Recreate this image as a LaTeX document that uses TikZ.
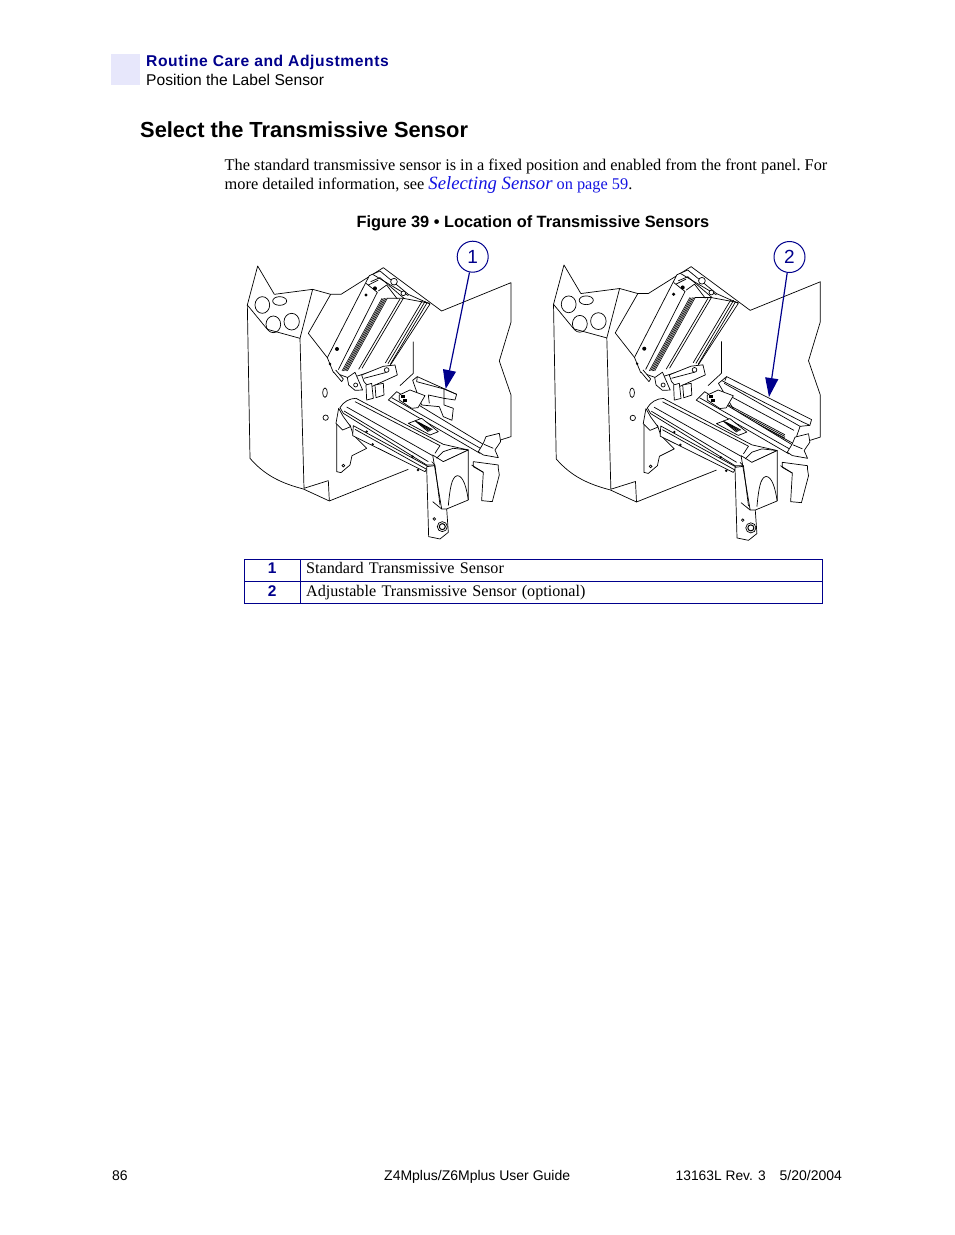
\documentclass[tikz,border=0pt]{standalone}
\usepackage{fontspec}
\setmainfont{Liberation Serif}
\setsansfont{Liberation Sans}
\usetikzlibrary{matrix, arrows.meta}
\definecolor{guideblue}{RGB}{0,0,140}
\definecolor{linkblue}{RGB}{20,20,225}
\definecolor{tabtint}{RGB}{231,231,251}
\tikzset{
  plain/.style={anchor=base west, inner sep=0pt, font=\sffamily\fontsize{14}{17}\selectfont},
  body/.style={anchor=base west, inner sep=0pt, font=\fontsize{16.34}{18}\selectfont},
  callout/.style={circle, draw=guideblue, line width=1pt, fill=white, minimum size=31pt, inner sep=0pt,
    text=guideblue, font=\sffamily\fontsize{19}{20}\selectfont},
  pointer/.style={draw=guideblue, line width=1.2pt, -{Triangle[length=19pt, width=13pt]}},
  part/.style={draw, fill=white, line join=round},
  edge/.style={draw, line join=round},
  rib/.style={draw, line width=0.6pt},
  layout/.style={
    matrix of nodes,
    inner sep=0pt,
    row sep=-\pgflinewidth,
    column sep=-\pgflinewidth,
    nodes={rectangle, draw=guideblue, line width=0.8pt, minimum height=22pt, inner sep=0pt, text height=10.5pt, text depth=3.5pt},
    column 1/.style={nodes={minimum width=56pt, align=center, text=guideblue, font=\sffamily\bfseries\fontsize{15.5}{17}\selectfont}},
    column 2/.style={nodes={minimum width=522pt, text width=511pt, align=left, font=\frenchspacing\fontsize{16.15}{18}\selectfont}},
  }
}
\newcommand{\housing}{%
  \draw[edge] (103,178) -- (53,93) -- (22,210) -- (30,670) .. controls (75,722) and (125,745) .. (190,762) -- (268,798) -- (505,703);
  \draw[edge] (22,210) -- (82,283) -- (180,310) -- (192,760) -- (265,737) -- (268,798);
  \draw[edge] (103,178) -- (218,163) -- (180,310);
  \draw[edge] (218,163) -- (272,178) -- (303,178) -- (430,98) -- (605,228) -- (813,143) -- (813,262) -- (778,378) -- (813,480) -- (813,605) -- (775,617);
  \draw[edge] (272,178) -- (205,295) -- (262,368);
  \draw[edge] (520,320) -- (520,415) -- (480,452);
  \draw (67,210) ellipse (22 and 25);
  \draw (119,198) ellipse (21 and 13);
  \draw (100,268) ellipse (22 and 25);
  \draw (155,260) ellipse (23 and 25);
  \draw (255,473) ellipse (7 and 14);
  \draw (257,548) circle (8);
}
\newcommand{\printhead}{%
  \draw[part] (388,122) -- (262,368) -- (280,412) -- (330,430) -- (450,392) -- (570,207) -- (505,178) -- (420,108) -- cycle;
  \draw[edge] (378,145) -- (412,172) -- (295,404);
  \foreach \ribshift in {0,4,8,12,16} {
    \draw[rib] (426+\ribshift,190) -- (306+\ribshift,408);
  }
  \draw[edge] (490,190) -- (366,400);
  \draw[edge] (480,192) -- (356,403);
  \draw[edge] (548,196) -- (436,384);
  \draw[edge] (556,198) -- (444,386);
  \draw[edge] (562,202) -- (451,388);
  \draw[edge] (440,190) -- (490,190) -- (570,205);
  \draw[edge] (398,118) -- (505,182);
  \draw[edge] (392,140) -- (420,128) -- (492,190);
  \draw[edge] (415,168) -- (440,150) -- (472,192);
  \draw[edge] (385,150) -- (415,135);
  \draw[part] (462,140) circle (10);
  \draw[part] (490,175) circle (7);
  \fill (378,180) circle (5);
  \fill (405,160) circle (6);
  \fill (291,342) circle (6);
  \fill (270,387) circle (4);
  \draw[part] (322,428) -- (345,412) -- (368,465) -- (345,466) -- (326,450) -- cycle;
  \draw (347,450) circle (6);
  \draw[part] (365,420) -- (430,394) -- (465,390) -- (472,420) -- (388,458) -- (372,440) -- cycle;
  \draw[edge] (372,430) -- (440,412);
  \draw[part] (440,405) circle (7);
  \draw[part] (378,450) -- (395,445) -- (400,490) -- (380,495) -- cycle;
  \draw[part] (405,450) -- (430,445) -- (432,480) -- (408,488) -- cycle;
  \draw[part] (280,410) -- (305,440) -- (310,432) -- (287,405);
}
\newcommand{\smallsensor}{%
  \draw[part] (518,436) -- (532,425) -- (650,478) -- (645,495) -- (612,490) -- (612,510) -- (640,520) -- (636,556) -- (610,545) -- (598,515) -- (545,510) -- (530,470) -- cycle;
  \draw[edge] (532,425) -- (530,440) -- (612,462) -- (612,490);
  \draw[edge] (612,462) -- (650,478);
  \draw[edge] (565,480) -- (612,490);
  \draw[edge] (565,480) -- (568,505);
}
\newcommand{\longsensor}{%
  \draw[part] (511,445) -- (521,437) -- (535,425) -- (787,553) -- (782,570) -- (753,573) -- (735,625) -- (560,530) -- cycle;
  \draw[edge] (521,437) -- (760,560) -- (782,570);
  \draw[edge] (528,445) -- (753,573);
  \draw[edge] (535,425) -- (530,437);
  \foreach \barshift in {0,5,10} {
    \draw[edge] (521,499+\barshift) -- (708,598+\barshift);
  }
  \draw[edge] (540,480) -- (735,585);
}
\newcommand{\platen}{%
  \draw[part] (470,470) -- (730,628) -- (720,655) -- (445,495) -- cycle;
  \draw[edge] (455,488) -- (725,642);
  \draw[part] (478,480) -- (510,465) -- (555,482) -- (534,518) -- (515,520) -- (478,495) -- cycle;
  \fill (482,480) rectangle (496,490);
  \fill (488,492) rectangle (502,501);
  \draw[part] (290,568) -- (290,710) -- (303,713) -- (330,690) -- (336,662) -- (380,640) -- (340,600) -- (330,570) -- cycle;
  \draw (310,692) circle (4);
  \draw[part] (300,518) .. controls (310,500) and (330,490) .. (348,490) -- (610,628) -- (685,645) -- (590,690) -- (560,690) -- (310,535) -- cycle;
  \draw[edge] (345,500) -- (600,632) -- (585,655);
  \draw[edge] (320,516) -- (578,662);
  \draw[edge] (312,528) -- (565,680);
  \draw[part] (340,572) -- (565,695) -- (555,710) -- (338,602) -- cycle;
  \draw[edge] (345,583) -- (560,703);
  \draw (398,628) circle (2.5);
  \draw (518,665) circle (2.5);
  \draw (380,590) circle (2.5);
  \draw (534,705) circle (2.5);
  \draw[part] (505,565) -- (545,550) -- (595,590) -- (570,600) -- cycle;
  \foreach \gripshift in {0,4,8,12} {
    \draw[line width=0.9pt] (525+\gripshift,557+\gripshift/2) -- (565+\gripshift,590-\gripshift/2);
  }
  \draw[part] (296,520) -- (310,545) -- (332,575) -- (308,585) -- (288,565) -- cycle;
  \draw[part] (700,680) -- (775,690) -- (775,700) -- (778,720) -- (757,800) -- (725,797) -- (730,712) -- (700,695) -- cycle;
  \draw[edge] (695,690) -- (730,712);
  \draw[part] (730,625) -- (738,605) -- (778,595) -- (782,620) -- (765,645) -- (775,668) -- (730,660) -- (715,650) -- cycle;
  \draw[edge] (732,628) -- (760,640);
  \draw[part] (560,695) -- (566,905) -- (600,912) -- (625,892) -- (620,820) -- (605,820) -- (600,690) -- cycle;
  \draw[part] (578,660) -- (610,680) -- (685,645) -- (685,795) -- (620,822) -- (605,822) -- cycle;
  \draw[edge] (590,670) -- (610,650) -- (640,640) -- (685,645);
  \draw[edge] (575,680) -- (585,690) -- (600,810);
  \draw[edge] (625,812) .. controls (630,760) and (635,725) .. (652,722) .. controls (670,722) and (680,760) .. (685,795);
  \draw (583,852) circle (4);
  \draw (607,875) circle (15);
  \draw[line width=1pt] (607,875) circle (9);
  \draw[edge] (578,800) -- (605,822);
}
\begin{document}
\begin{tikzpicture}[x=1pt, y=-1pt]
  \useasboundingbox (0,0) rectangle (954,1235);
  \fill[tabtint] (111,54) rectangle (140,85);
  \node[plain, text=guideblue, font=\sffamily\bfseries\fontsize{15.65}{17}\selectfont] (chapter) at (146,66) {\addfontfeature{LetterSpace=3.7}Routine Care and Adjustments};
  \node[plain, font=\sffamily\fontsize{15.6}{17}\selectfont] (section) at (146,85) {Position the Label Sensor};
  \node[plain, font=\sffamily\bfseries\fontsize{21.85}{24}\selectfont] (title) at (140,137) {Select the Transmissive Sensor};
  \node[body] (para-1) at (224.5,170) {\frenchspacing The standard transmissive sensor is in a fixed position and enabled from the front panel. For};
  \node[body] (para-2) at (224.5,189) {more detailed information, see {\color{linkblue}{\fontsize{18.7}{18}\selectfont\itshape Selecting Sensor} on page 59}.};
  \node[plain, anchor=base, font=\sffamily\bfseries\fontsize{16.34}{18}\selectfont] (caption) at (533,227) {Figure 39 • Location of Transmissive Sensors};

  % left printer
  \begin{scope}[shift={(240,235)}, scale=0.3333, line width=0.7pt]
    \housing
    \smallsensor
    \printhead
    \platen
  \end{scope}
  % right printer
  \begin{scope}[shift={(546.1,233.7)}, xscale=0.3373, yscale=0.3362, line width=0.7pt]
    \housing
    \longsensor
    \printhead
    \platen
  \end{scope}

  \node[callout] (callout-1) at (472.7,256.7) {1};
  \node[callout] (callout-2) at (789.5,257) {2};
  \coordinate (tip-1) at (445.7,389);
  \coordinate (tip-2) at (769,397);
  \draw[pointer] (callout-1) -- (tip-1);
  \draw[pointer] (callout-2) -- (tip-2);

  \matrix (legend) [layout, anchor=north west] at (243.7,558.7) {
    1& Standard Transmissive Sensor \\
    2& Adjustable Transmissive Sensor (optional) \\
  };

  \node[plain] (page-number) at (112,1180) {86};
  \node[plain] (guide-name) at (384,1180) {Z4Mplus/Z6Mplus User Guide};
  \node[plain, font=\sffamily\fontsize{13.8}{17}\selectfont] (revision) at (675.5,1180) {13163L Rev. 3};
  \node[plain] (rev-date) at (779.5,1180) {5/20/2004};
\end{tikzpicture}
\end{document}
